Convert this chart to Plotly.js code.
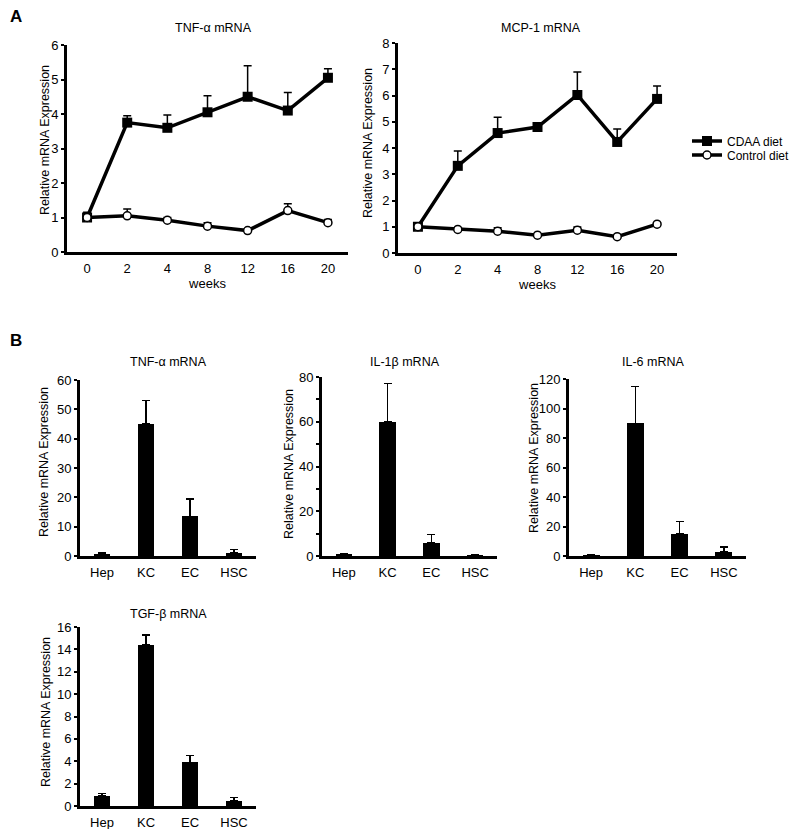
<!DOCTYPE html>
<html>
<head>
<meta charset="utf-8">
<script src="https://cdn.plot.ly/plotly-3.0.1.min.js"></script>
<style>html,body{margin:0;padding:0;background:#fff;}#chart{width:795px;height:829px;}</style>
</head>
<body>
<div id="chart"></div>
<script>
// ---- Panel A data ----
const weeks = ["0", "2", "4", "8", "12", "16", "20"];
const tnfCdaa = [1.0, 3.75, 3.6, 4.05, 4.5, 4.1, 5.05];
const tnfCdaaErr = [0.15, 0.2, 0.37, 0.48, 0.9, 0.52, 0.26];
const tnfCtrl = [1.0, 1.05, 0.92, 0.75, 0.62, 1.2, 0.85];
const tnfCtrlErr = [0.05, 0.2, 0.08, 0.1, 0.03, 0.2, 0.09];
const mcpCdaa = [1.0, 3.32, 4.57, 4.8, 6.02, 4.23, 5.87];
const mcpCdaaErr = [0.05, 0.57, 0.6, 0.08, 0.88, 0.49, 0.49];
const mcpCtrl = [1.0, 0.9, 0.83, 0.68, 0.87, 0.62, 1.1];
const mcpCtrlErr = [0.05, 0.05, 0.13, 0.03, 0.12, 0.03, 0.05];

// ---- Panel B data ----
const cellTypes = ["Hep", "KC", "EC", "HSC"];
const tnfCells = [0.8, 45, 13.5, 1.0];
const tnfCellsErr = [0.3, 8, 6, 1.2];
const il1bCells = [0.8, 60, 6, 0.3];
const il1bCellsErr = [0.3, 17, 3.5, 0.2];
const il6Cells = [0.5, 90, 15, 3];
const il6CellsErr = [0.4, 25, 8.5, 3];
const tgfCells = [0.9, 14.4, 3.9, 0.45];
const tgfCellsErr = [0.2, 0.9, 0.6, 0.3];

const FONT = "Liberation Sans, Arial, Helvetica, sans-serif";
const W = 795, H = 829;
const px = (a, b) => [a / W, b / W];
const py = (top, bottom) => [1 - bottom / H, 1 - top / H];

function upperErr(arr, thick) {
  return {type: "data", array: arr, arrayminus: arr.map(() => 0), symmetric: false,
          color: "black", thickness: thick, width: 4};
}

const traces = [];
function lineTraces(xa, ya, cdaa, cdaaErr, ctrl, ctrlErr, showLegend) {
  traces.push({x: weeks, y: cdaa, xaxis: xa, yaxis: ya, type: "scatter", mode: "lines+markers",
    name: "CDAA diet", showlegend: showLegend, legend: "legend",
    line: {color: "black", width: 3.5},
    marker: {symbol: "square", size: 10, color: "black"},
    error_y: upperErr(cdaaErr, 1.5)});
  traces.push({x: weeks, y: ctrl, xaxis: xa, yaxis: ya, type: "scatter", mode: "lines+markers",
    name: "Control diet", showlegend: showLegend, legend: "legend2",
    line: {color: "black", width: 3.5},
    marker: {symbol: "circle", size: 8, color: "white", line: {color: "black", width: 1.5}},
    error_y: upperErr(ctrlErr, 1.5)});
}
lineTraces("x", "y", tnfCdaa, tnfCdaaErr, tnfCtrl, tnfCtrlErr, true);
lineTraces("x2", "y2", mcpCdaa, mcpCdaaErr, mcpCtrl, mcpCtrlErr, false);

function barTrace(xa, ya, vals, errs) {
  traces.push({x: cellTypes, y: vals, xaxis: xa, yaxis: ya, type: "bar", width: 0.38,
    marker: {color: "black", line: {width: 0}}, showlegend: false,
    error_y: upperErr(errs, 1.5)});
}
barTrace("x3", "y3", tnfCells, tnfCellsErr);
barTrace("x4", "y4", il1bCells, il1bCellsErr);
barTrace("x5", "y5", il6Cells, il6CellsErr);
barTrace("x6", "y6", tgfCells, tgfCellsErr);

const tickFont = {family: FONT, size: 13, color: "black"};
const titleFont = {family: FONT, size: 12.5, color: "black"};

function xAxis(dom, anchor, title) {
  const ax = {domain: dom, anchor: anchor, type: "category", range: [-0.5, weeks.length - 0.5],
    showline: true, linecolor: "black", linewidth: 3, ticks: "", showgrid: false, zeroline: false,
    tickfont: tickFont, fixedrange: true, automargin: false, ticklabelstandoff: 2};
  if (title) ax.title = {text: title, font: {family: FONT, size: 13, color: "black"}, standoff: 4};
  return ax;
}
function yAxis(dom, anchor, range, dtick, minor) {
  const ax = {domain: dom, anchor: anchor, range: range, dtick: dtick, tick0: 0,
    showline: true, linecolor: "black", linewidth: 3, ticks: "outside", ticklen: 3, tickwidth: 2,
    tickcolor: "black", showgrid: false, zeroline: false, tickfont: tickFont, automargin: false};
  if (minor) ax.minor = {dtick: minor, ticks: "outside", ticklen: 3, tickwidth: 2, tickcolor: "black", showgrid: false};
  return ax;
}

const legendBase = {xanchor: "left", yanchor: "middle", bgcolor: "rgba(0,0,0,0)",
  font: {family: FONT, size: 12, color: "black"}, itemwidth: 30, borderwidth: 0};

function note(text, x, y, font, angle) {
  const a = {text: text, x: x / W, y: 1 - y / H, xref: "paper", yref: "paper",
    xanchor: "center", yanchor: "middle", showarrow: false, font: font};
  if (angle) a.textangle = angle;
  return a;
}
const yTitle = "Relative mRNA Expression";

const layout = {
  width: W, height: H, margin: {l: 0, r: 0, t: 0, b: 0},
  paper_bgcolor: "white", plot_bgcolor: "white",
  font: {family: FONT, color: "black"},
  bargap: 0,
  xaxis: xAxis(px(67, 348), "y", "weeks"),
  yaxis: yAxis(py(45, 252), "x", [0, 6], 1),
  xaxis2: xAxis(px(398, 677), "y2", "weeks"),
  yaxis2: yAxis(py(43, 253), "x2", [0, 8], 1),
  xaxis3: Object.assign(xAxis(px(80, 256), "y3"), {range: [-0.5, 3.5]}),
  yaxis3: yAxis(py(380, 556), "x3", [0, 60], 10),
  xaxis4: Object.assign(xAxis(px(322, 497), "y4"), {range: [-0.5, 3.5]}),
  yaxis4: yAxis(py(377, 556), "x4", [0, 80], 20, 10),
  xaxis5: Object.assign(xAxis(px(569, 746), "y5"), {range: [-0.5, 3.5]}),
  yaxis5: yAxis(py(379, 556), "x5", [0, 120], 20),
  xaxis6: Object.assign(xAxis(px(80, 256), "y6"), {range: [-0.5, 3.5]}),
  yaxis6: yAxis(py(627, 806), "x6", [0, 16], 2),
  showlegend: true,
  legend: Object.assign({x: 687 / W, y: 1 - 141 / H}, legendBase),
  legend2: Object.assign({x: 687 / W, y: 1 - 155 / H}, legendBase),
  annotations: [
    {text: "<b>A</b>", x: 8 / W, y: 1 - 17 / H, xref: "paper", yref: "paper", xanchor: "left", yanchor: "middle", showarrow: false, font: {family: FONT, size: 17}},
    {text: "<b>B</b>", x: 8 / W, y: 1 - 340 / H, xref: "paper", yref: "paper", xanchor: "left", yanchor: "middle", showarrow: false, font: {family: FONT, size: 17}},
    note("TNF-α mRNA", 213, 28, titleFont),
    note("MCP-1 mRNA", 541, 28, titleFont),
    note("TNF-α mRNA", 168, 362, titleFont),
    note("IL-1β mRNA", 405, 362, titleFont),
    note("IL-6 mRNA", 653, 362, titleFont),
    note("TGF-β mRNA", 168, 614, titleFont),
    note(yTitle, 45, 140, titleFont, -90),
    note(yTitle, 368, 143, titleFont, -90),
    note(yTitle, 44, 462, titleFont, -90),
    note(yTitle, 289, 464, titleFont, -90),
    note(yTitle, 534, 458, titleFont, -90),
    note(yTitle, 46, 712, titleFont, -90)
  ]
};

Plotly.newPlot("chart", traces, layout, {staticPlot: true, displayModeBar: false});
</script>
</body>
</html>
